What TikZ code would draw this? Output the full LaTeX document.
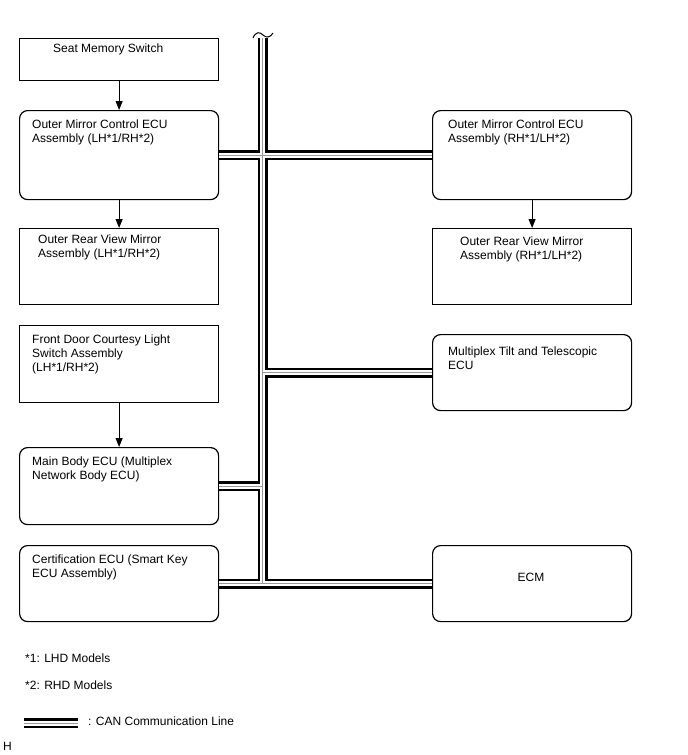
\documentclass[tikz,border=0pt]{standalone}
\usepackage{fontspec}
\setmainfont{Liberation Sans}
\usetikzlibrary{positioning,arrows.meta}
\definecolor{canmid}{HTML}{9A9A9A}
\tikzset{
  box/.style={rectangle, draw=black, line width=1.2pt, minimum width=199pt,
              minimum height=#1, anchor=north west, inner sep=0pt},
  ecu/.style={box=#1, rounded corners=8pt},
  txt/.style={font=\fontsize{12}{14}\selectfont, align=left,
              anchor=north west, inner sep=0pt},
  ar/.style={-{Triangle[length=9pt,width=7pt]}, line width=0.9pt},
  can/.style={draw=black, line width=10pt,
              postaction={draw=white, line width=5pt},
              postaction={draw=canmid, line width=0.9pt}},
}
\begin{document}
\begin{tikzpicture}[x=1pt,y=-1pt]
  \useasboundingbox (0,0) rectangle (688,755);

  \node[box=42]  (sms)  at (19,38)  {};
  \node[ecu=89]  (omL)  at (19,110) {};
  \node[box=76]  (orvL) at (19,228) {};
  \node[box=77]  (fdc)  at (19,325) {};
  \node[ecu=77]  (mb)   at (19,447) {};
  \node[ecu=76]  (cert) at (19,545) {};
  \node[ecu=89]  (omR)  at (432,110) {};
  \node[box=76]  (orvR) at (432,228) {};
  \node[ecu=76]  (tilt) at (432,334) {};
  \node[ecu=76]  (ecm)  at (432,545) {};

  \node[txt] (sms-t)  at (53,44)     {Seat Memory Switch};
  \node[txt] (omL-t)  at (32,119.5)  {Outer Mirror Control ECU\\Assembly (LH*1/RH*2)};
  \node[txt] (orvL-t) at (38,234.5)  {Outer Rear View Mirror\\Assembly (LH*1/RH*2)};
  \node[txt] (fdc-t)  at (32,334.5)  {Front Door Courtesy Light\\Switch Assembly\\(LH*1/RH*2)};
  \node[txt] (mb-t)   at (32,456.5)  {Main Body ECU (Multiplex\\Network Body ECU)};
  \node[txt] (cert-t) at (32,554.5)  {Certification ECU (Smart Key\\ECU Assembly)};
  \node[txt] (omR-t)  at (448,119.5) {Outer Mirror Control ECU\\Assembly (RH*1/LH*2)};
  \node[txt] (orvR-t) at (460,236.5) {Outer Rear View Mirror\\Assembly (RH*1/LH*2)};
  \node[txt] (tilt-t) at (448,346.5) {Multiplex Tilt and Telescopic\\ECU};
  \node[txt, anchor=center] (ecm-t) at (531,577) {ECM};

  \draw[ar] (sms) -- (omL);
  \draw[ar] (omL) -- (orvL);
  \draw[ar] (fdc) -- (mb);
  \draw[ar] (omR) -- (orvR);

  \coordinate (bTop) at (262.5,38);
  \coordinate (bBot) at (262.5,583);
  \path[can] (bTop) -- (bBot)
             (omL.east) -- (omR.west)
             (tilt.west) -- (tilt.west -| bTop)
             (mb.east) -- (mb.east -| bTop)
             (cert.east) -- (ecm.west);
  \draw[line width=1pt] (253,38) .. controls (256,31) and (260,32) .. (263,35)
                                 .. controls (266,38) and (270,38) .. (273,33);

  \node[txt, anchor=west] (fn1) at (25,658) {*1: LHD Models};
  \node[txt, anchor=west] (fn2) at (25,685) {*2: RHD Models};
  \coordinate (lgA) at (24,723);
  \coordinate (lgB) at (78,723);
  \path[can] (lgA) -- (lgB);
  \node[txt, anchor=west] (lg-t) at (88,721) {: CAN Communication Line};
  \node[txt, anchor=west] (code) at (3,746) {H};
\end{tikzpicture}
\end{document}
